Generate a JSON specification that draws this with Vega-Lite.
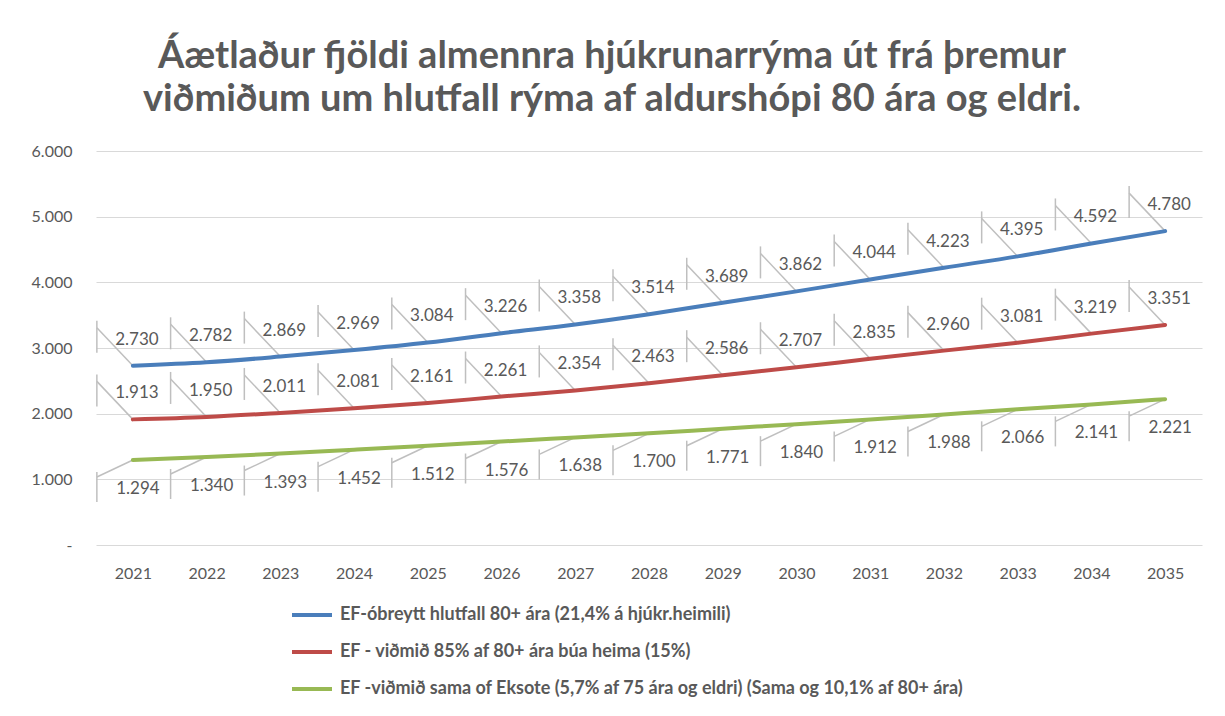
{
  "$schema": "https://vega.github.io/schema/vega-lite/v6.json",
  "width": 1106,
  "height": 394,
  "autosize": "none",
  "padding": {"left": 96, "top": 151, "right": 23, "bottom": 171},
  "background": "white",
  "config": {
    "view": {"stroke": null},
    "font": "Lato",
    "locale": {"number": {"decimal": ",", "thousands": ".", "grouping": [3], "currency": ["", " kr."]}}
  },
  "title": {
    "text": ["Áætlaður fjöldi almennra hjúkrunarrýma út frá þremur", "viðmiðum um hlutfall rýma af aldurshópi 80 ára og eldri."],
    "fontSize": 38,
    "fontWeight": "bold",
    "color": "#595959",
    "font": "Lato",
    "anchor": "middle",
    "dx": -37,
    "offset": 24,
    "lineHeight": 43
  },
  "datasets": {
    "d": [
      {"year": "2021", "series": "EF-óbreytt hlutfall 80+ ára (21,4% á hjúkr.heimili)", "grp": "up", "value": 2730},
      {"year": "2022", "series": "EF-óbreytt hlutfall 80+ ára (21,4% á hjúkr.heimili)", "grp": "up", "value": 2782},
      {"year": "2023", "series": "EF-óbreytt hlutfall 80+ ára (21,4% á hjúkr.heimili)", "grp": "up", "value": 2869},
      {"year": "2024", "series": "EF-óbreytt hlutfall 80+ ára (21,4% á hjúkr.heimili)", "grp": "up", "value": 2969},
      {"year": "2025", "series": "EF-óbreytt hlutfall 80+ ára (21,4% á hjúkr.heimili)", "grp": "up", "value": 3084},
      {"year": "2026", "series": "EF-óbreytt hlutfall 80+ ára (21,4% á hjúkr.heimili)", "grp": "up", "value": 3226},
      {"year": "2027", "series": "EF-óbreytt hlutfall 80+ ára (21,4% á hjúkr.heimili)", "grp": "up", "value": 3358},
      {"year": "2028", "series": "EF-óbreytt hlutfall 80+ ára (21,4% á hjúkr.heimili)", "grp": "up", "value": 3514},
      {"year": "2029", "series": "EF-óbreytt hlutfall 80+ ára (21,4% á hjúkr.heimili)", "grp": "up", "value": 3689},
      {"year": "2030", "series": "EF-óbreytt hlutfall 80+ ára (21,4% á hjúkr.heimili)", "grp": "up", "value": 3862},
      {"year": "2031", "series": "EF-óbreytt hlutfall 80+ ára (21,4% á hjúkr.heimili)", "grp": "up", "value": 4044},
      {"year": "2032", "series": "EF-óbreytt hlutfall 80+ ára (21,4% á hjúkr.heimili)", "grp": "up", "value": 4223},
      {"year": "2033", "series": "EF-óbreytt hlutfall 80+ ára (21,4% á hjúkr.heimili)", "grp": "up", "value": 4395},
      {"year": "2034", "series": "EF-óbreytt hlutfall 80+ ára (21,4% á hjúkr.heimili)", "grp": "up", "value": 4592},
      {"year": "2035", "series": "EF-óbreytt hlutfall 80+ ára (21,4% á hjúkr.heimili)", "grp": "up", "value": 4780},
      {"year": "2021", "series": "EF - viðmið 85% af 80+ ára búa heima (15%)", "grp": "up", "value": 1913},
      {"year": "2022", "series": "EF - viðmið 85% af 80+ ára búa heima (15%)", "grp": "up", "value": 1950},
      {"year": "2023", "series": "EF - viðmið 85% af 80+ ára búa heima (15%)", "grp": "up", "value": 2011},
      {"year": "2024", "series": "EF - viðmið 85% af 80+ ára búa heima (15%)", "grp": "up", "value": 2081},
      {"year": "2025", "series": "EF - viðmið 85% af 80+ ára búa heima (15%)", "grp": "up", "value": 2161},
      {"year": "2026", "series": "EF - viðmið 85% af 80+ ára búa heima (15%)", "grp": "up", "value": 2261},
      {"year": "2027", "series": "EF - viðmið 85% af 80+ ára búa heima (15%)", "grp": "up", "value": 2354},
      {"year": "2028", "series": "EF - viðmið 85% af 80+ ára búa heima (15%)", "grp": "up", "value": 2463},
      {"year": "2029", "series": "EF - viðmið 85% af 80+ ára búa heima (15%)", "grp": "up", "value": 2586},
      {"year": "2030", "series": "EF - viðmið 85% af 80+ ára búa heima (15%)", "grp": "up", "value": 2707},
      {"year": "2031", "series": "EF - viðmið 85% af 80+ ára búa heima (15%)", "grp": "up", "value": 2835},
      {"year": "2032", "series": "EF - viðmið 85% af 80+ ára búa heima (15%)", "grp": "up", "value": 2960},
      {"year": "2033", "series": "EF - viðmið 85% af 80+ ára búa heima (15%)", "grp": "up", "value": 3081},
      {"year": "2034", "series": "EF - viðmið 85% af 80+ ára búa heima (15%)", "grp": "up", "value": 3219},
      {"year": "2035", "series": "EF - viðmið 85% af 80+ ára búa heima (15%)", "grp": "up", "value": 3351},
      {"year": "2021", "series": "EF -viðmið sama of Eksote (5,7% af 75 ára og eldri) (Sama og 10,1% af 80+ ára)", "grp": "down", "value": 1294},
      {"year": "2022", "series": "EF -viðmið sama of Eksote (5,7% af 75 ára og eldri) (Sama og 10,1% af 80+ ára)", "grp": "down", "value": 1340},
      {"year": "2023", "series": "EF -viðmið sama of Eksote (5,7% af 75 ára og eldri) (Sama og 10,1% af 80+ ára)", "grp": "down", "value": 1393},
      {"year": "2024", "series": "EF -viðmið sama of Eksote (5,7% af 75 ára og eldri) (Sama og 10,1% af 80+ ára)", "grp": "down", "value": 1452},
      {"year": "2025", "series": "EF -viðmið sama of Eksote (5,7% af 75 ára og eldri) (Sama og 10,1% af 80+ ára)", "grp": "down", "value": 1512},
      {"year": "2026", "series": "EF -viðmið sama of Eksote (5,7% af 75 ára og eldri) (Sama og 10,1% af 80+ ára)", "grp": "down", "value": 1576},
      {"year": "2027", "series": "EF -viðmið sama of Eksote (5,7% af 75 ára og eldri) (Sama og 10,1% af 80+ ára)", "grp": "down", "value": 1638},
      {"year": "2028", "series": "EF -viðmið sama of Eksote (5,7% af 75 ára og eldri) (Sama og 10,1% af 80+ ára)", "grp": "down", "value": 1700},
      {"year": "2029", "series": "EF -viðmið sama of Eksote (5,7% af 75 ára og eldri) (Sama og 10,1% af 80+ ára)", "grp": "down", "value": 1771},
      {"year": "2030", "series": "EF -viðmið sama of Eksote (5,7% af 75 ára og eldri) (Sama og 10,1% af 80+ ára)", "grp": "down", "value": 1840},
      {"year": "2031", "series": "EF -viðmið sama of Eksote (5,7% af 75 ára og eldri) (Sama og 10,1% af 80+ ára)", "grp": "down", "value": 1912},
      {"year": "2032", "series": "EF -viðmið sama of Eksote (5,7% af 75 ára og eldri) (Sama og 10,1% af 80+ ára)", "grp": "down", "value": 1988},
      {"year": "2033", "series": "EF -viðmið sama of Eksote (5,7% af 75 ára og eldri) (Sama og 10,1% af 80+ ára)", "grp": "down", "value": 2066},
      {"year": "2034", "series": "EF -viðmið sama of Eksote (5,7% af 75 ára og eldri) (Sama og 10,1% af 80+ ára)", "grp": "down", "value": 2141},
      {"year": "2035", "series": "EF -viðmið sama of Eksote (5,7% af 75 ára og eldri) (Sama og 10,1% af 80+ ára)", "grp": "down", "value": 2221}
    ]
  },
  "data": {"name": "d"},
  "encoding": {
    "x": {
      "field": "year", "type": "ordinal",
      "scale": {"type": "point", "padding": 0.5},
      "axis": {"title": null, "labelAngle": 0, "labelFontSize": 16, "labelColor": "#595959", "labelFont": "Lato", "domain": false, "ticks": false, "labelPadding": 20, "grid": false}
    },
    "y": {
      "field": "value", "type": "quantitative",
      "scale": {"domain": [0, 6000]},
      "axis": {"title": null, "values": [0, 1000, 2000, 3000, 4000, 5000, 6000], "labelExpr": "datum.value == 0 ? '-' : replace(format(datum.value, ',.0f'), ',', '.')", "labelFontSize": 16, "labelColor": "#595959", "labelFont": "Lato", "domain": false, "ticks": false, "labelPadding": 24, "gridColor": "#d9d9d9", "gridWidth": 1.2}
    }
  },
  "layer": [
    {
      "transform": [{"filter": "datum.grp == 'up'"}],
      "mark": {"type": "rule", "color": "#bfbfbf", "strokeWidth": 1.5, "x2Offset": -36, "y2Offset": -38},
      "encoding": {"x2": {"field": "year"}, "y2": {"field": "value"}}
    },
    {
      "transform": [{"filter": "datum.grp == 'up'"}],
      "mark": {"type": "rule", "color": "#bfbfbf", "strokeWidth": 1.5, "xOffset": -36, "x2Offset": -36, "yOffset": -45, "y2Offset": -13},
      "encoding": {"x2": {"field": "year"}, "y2": {"field": "value"}}
    },
    {
      "transform": [{"filter": "datum.grp == 'down'"}],
      "mark": {"type": "rule", "color": "#bfbfbf", "strokeWidth": 1.5, "x2Offset": -36, "y2Offset": 17},
      "encoding": {"x2": {"field": "year"}, "y2": {"field": "value"}}
    },
    {
      "transform": [{"filter": "datum.grp == 'down'"}],
      "mark": {"type": "rule", "color": "#bfbfbf", "strokeWidth": 1.5, "xOffset": -36, "x2Offset": -36, "yOffset": 12, "y2Offset": 42},
      "encoding": {"x2": {"field": "year"}, "y2": {"field": "value"}}
    },
    {
      "mark": {"type": "line", "interpolate": "monotone", "strokeWidth": 4, "strokeCap": "round"},
      "encoding": {
        "color": {
          "field": "series", "type": "nominal",
          "scale": {
            "domain": ["EF-óbreytt hlutfall 80+ ára (21,4% á hjúkr.heimili)", "EF - viðmið 85% af 80+ ára búa heima (15%)", "EF -viðmið sama of Eksote (5,7% af 75 ára og eldri) (Sama og 10,1% af 80+ ára)"],
            "range": ["#4a7ebb", "#be4b48", "#98b954"]
          },
          "legend": {
            "title": null, "orient": "none", "legendX": 194, "legendY": 454, "direction": "vertical",
            "symbolType": "stroke", "symbolStrokeWidth": 4, "symbolSize": 1600,
            "labelFontSize": 18, "labelFontWeight": "bold", "labelColor": "#595959", "labelFont": "Lato",
            "labelLimit": 900, "labelOffset": 6, "clipHeight": 20, "rowPadding": 17
          }
        }
      }
    },
    {
      "transform": [{"filter": "datum.grp == 'up'"}],
      "mark": {"type": "text", "dx": 4, "dy": -26, "fontSize": 17, "color": "#595959", "font": "Lato"},
      "encoding": {"text": {"field": "value", "type": "quantitative", "format": ",.0f"}}
    },
    {
      "transform": [{"filter": "datum.grp == 'down'"}],
      "mark": {"type": "text", "dx": 5, "dy": 29, "fontSize": 17, "color": "#595959", "font": "Lato"},
      "encoding": {"text": {"field": "value", "type": "quantitative", "format": ",.0f"}}
    }
  ]
}
